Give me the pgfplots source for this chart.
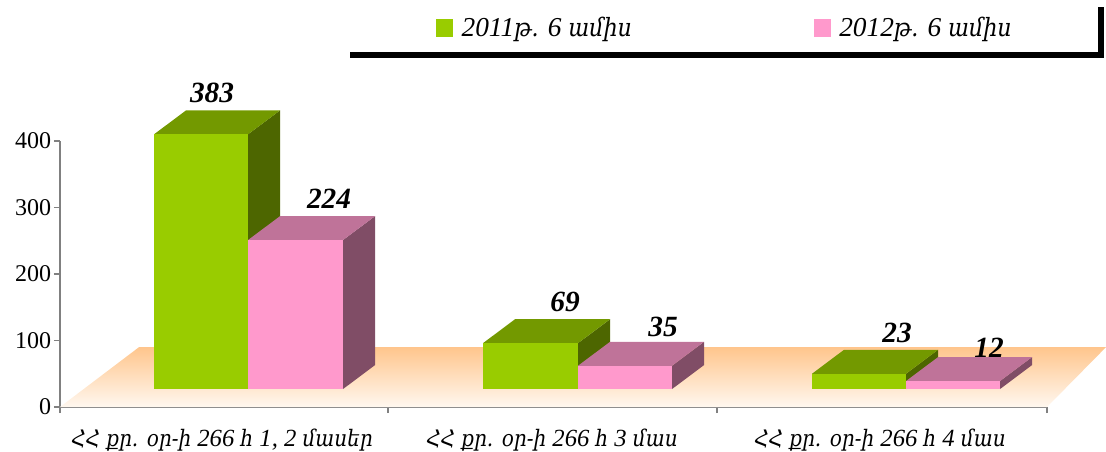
\documentclass[border=0pt]{standalone}
\usepackage{fontspec}
\usepackage{pgfplots}
\pgfplotsset{compat=1.18}
\setmainfont{Liberation Serif}
\newfontfamily\armfont[Script=Armenian,ItalicFont={DejaVu Serif Italic},FakeStretch=0.88,Scale=0.92]{DejaVu Serif}
\newcommand{\arm}[1]{{\armfont\itshape #1}}
\definecolor{grfront}{HTML}{99CC00}
\definecolor{grtop}{HTML}{739900}
\definecolor{grside}{HTML}{4D6600}
\definecolor{pkfront}{HTML}{FF99CC}
\definecolor{pktop}{HTML}{BF7399}
\definecolor{pkside}{HTML}{804D66}
\definecolor{axgray}{HTML}{808080}
\begin{document}
\begin{tikzpicture}
\path[use as bounding box] (-45pt,-33pt) rectangle (784.5pt,305.25pt);
\begin{axis}[
    scale only axis,
    width=740.25pt, height=199.5pt,
    xmin=0, xmax=987, ymin=0, ymax=400,
    clip=false,
    axis x line=bottom, axis y line=left,
    axis line style={axgray, line width=1pt, -},
    tick style={axgray, line width=1pt},
    major tick length=4.5pt,
    tick align=outside,
    xtick={0,328,657,987}, xticklabels={},
    ytick={0,100,200,300,400},
    yticklabel style={font=\fontsize{18}{20}\selectfont, inner sep=2pt},
    /pgf/number format/assume math mode=true,
    extra x ticks={162,492,820},
    extra x tick labels={
        {\arm{ՀՀ քր. օր-ի} \textit{266} \arm{հ} \textit{1, 2} \arm{մասեր}},
        {\arm{ՀՀ քր. օր-ի} \textit{266} \arm{հ} \textit{3} \arm{մաս}},
        {\arm{ՀՀ քր. օր-ի} \textit{266} \arm{հ} \textit{4} \arm{մաս}}},
    extra x tick style={major tick length=0pt,
        tick label style={font=\fontsize{18.5}{20}\selectfont, yshift=-13pt}},
    legend columns=2,
    legend cell align=left,
    legend style={at={(376/987,1.425)}, anchor=west, draw=none, fill=none,
        font=\fontsize{20.5}{23}\selectfont\itshape, inner sep=0pt,
        /tikz/every even column/.append style={column sep=134.5pt}},
    legend image code/.code={\fill[#1, draw=none] (0pt,-6.5pt) rectangle (12.5pt,6.5pt);
        \path[draw=none, fill=none] (0pt,0pt) rectangle (17pt,0.1pt);},
]
% floor
\addplot[draw=none, top color=orange!45!white, bottom color=orange!6!white, forget plot]
    coordinates {(0,0) (79,90) (1046,90) (987,0)} --cycle;

% group 1, 383
\addplot[fill=grside, draw=none, forget plot] coordinates {(188,27) (220,63) (220,446) (188,410)};
\addplot[fill=grtop, draw=none, forget plot] coordinates {(94,410) (126,446) (220,446) (188,410)};
\addplot[fill=grfront, draw=none, forget plot] coordinates {(94,27) (94,410) (188,410) (188,27)};
% group 1, 224
\addplot[fill=pkside, draw=none, forget plot] coordinates {(283,27) (315,63) (315,287) (283,251)};
\addplot[fill=pktop, draw=none, forget plot] coordinates {(188,251) (220,287) (315,287) (283,251)};
\addplot[fill=pkfront, draw=none, forget plot] coordinates {(188,27) (188,251) (283,251) (283,27)};
% group 2, 69
\addplot[fill=grside, draw=none, forget plot] coordinates {(518,27) (550,63) (550,132) (518,96)};
\addplot[fill=grtop, draw=none, forget plot] coordinates {(423,96) (455,132) (550,132) (518,96)};
\addplot[fill=grfront, draw=none, forget plot] coordinates {(423,27) (423,96) (518,96) (518,27)};
% group 2, 35
\addplot[fill=pkside, draw=none, forget plot] coordinates {(612,27) (644,63) (644,98) (612,62)};
\addplot[fill=pktop, draw=none, forget plot] coordinates {(518,62) (550,98) (644,98) (612,62)};
\addplot[fill=pkfront, draw=none, forget plot] coordinates {(518,27) (518,62) (612,62) (612,27)};
% group 3, 23
\addplot[fill=grside, draw=none, forget plot] coordinates {(846,27) (878,63) (878,86) (846,50)};
\addplot[fill=grtop, draw=none, forget plot] coordinates {(752,50) (784,86) (878,86) (846,50)};
\addplot[fill=grfront, draw=none, forget plot] coordinates {(752,27) (752,50) (846,50) (846,27)};
% group 3, 12
\addplot[fill=pkside, draw=none, forget plot] coordinates {(940,27) (972,63) (972,75) (940,39)};
\addplot[fill=pktop, draw=none, forget plot] coordinates {(846,39) (878,75) (972,75) (940,39)};
\addplot[fill=pkfront, draw=none, forget plot] coordinates {(846,27) (846,39) (940,39) (940,27)};

% value labels
\addplot[only marks, mark=none, forget plot, point meta=explicit symbolic,
    nodes near coords,
    every node near coord/.append style={anchor=center, text=black,
        font=\fontsize{22}{24}\selectfont\bfseries\itshape}]
    coordinates {(152,472)[383] (269,313)[224] (505,158)[69] (603,120)[35] (837,111)[23] (929,89)[12]};

\addlegendimage{grfront}
\addlegendentry{2011\arm{թ.} 6 \arm{ամիս}}
\addlegendimage{pkfront}
\addlegendentry{2012\arm{թ.} 6 \arm{ամիս}}

% legend frame
\fill[black] (217.5pt,261.75pt) rectangle (783pt,266.25pt);
\fill[black] (778.5pt,261.75pt) rectangle (783pt,300pt);
\end{axis}
\end{tikzpicture}
\end{document}
